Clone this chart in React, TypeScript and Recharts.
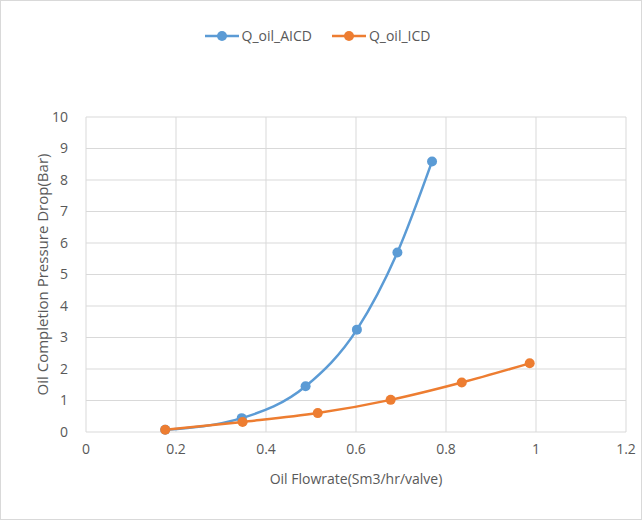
import React from "react";
import { LineChart, Line, XAxis, YAxis, CartesianGrid, Legend } from "recharts";

// flowrate (Sm3/hr/valve) vs pressure drop (bar)
const aicdFlow = [0.176, 0.346, 0.488, 0.602, 0.692, 0.769];
const aicdDrop = [0.07, 0.44, 1.45, 3.25, 5.7, 8.59];
const icdFlow = [0.176, 0.348, 0.515, 0.677, 0.835, 0.986];
const icdDrop = [0.07, 0.32, 0.6, 1.02, 1.57, 2.18];
const xTicks = [0, 0.2, 0.4, 0.6, 0.8, 1, 1.2];
const yTicks = [0, 1, 2, 3, 4, 5, 6, 7, 8, 9, 10];

const aicdData = aicdFlow.map((x, i) => ({ x, y: aicdDrop[i] }));
const icdData = icdFlow.map((x, i) => ({ x, y: icdDrop[i] }));

const FONT = "'Open Sans', sans-serif";
const TEXT = "#595959";
const BLUE = "#5b9bd5";
const ORANGE = "#ed7d31";

const LegendContent = () => {
  const items = [
    { name: "Q_oil_AICD", color: BLUE },
    { name: "Q_oil_ICD", color: ORANGE },
  ];
  return (
    <div style={{ display: "flex", justifyContent: "center", gap: 20, fontFamily: FONT, fontSize: 14, color: TEXT, paddingLeft: 8 }}>
      {items.map((it) => (
        <div key={it.name} style={{ display: "flex", alignItems: "center" }}>
          <svg width={34} height={12} style={{ marginRight: 3 }}>
            <line x1={0} y1={6} x2={34} y2={6} stroke={it.color} strokeWidth={2.5} />
            <circle cx={17} cy={6} r={5} fill={it.color} />
          </svg>
          <span>{it.name}</span>
        </div>
      ))}
    </div>
  );
};

export default function App() {
  return (
    <div
      style={{
        position: "absolute",
        left: 0,
        top: 0,
        width: 640,
        height: 518,
        border: "1px solid #d9d9d9",
        background: "#fff",
      }}
    >
      <LineChart width={640} height={518} margin={{ top: 20, right: 15, left: 0, bottom: 0 }}>
        <CartesianGrid stroke="#d9d9d9" strokeWidth={1} />
        <XAxis
          type="number"
          dataKey="x"
          domain={[0, 1.2]}
          ticks={xTicks}
          height={87}
          axisLine={false}
          tickLine={false}
          tick={{ fontSize: 14, fill: TEXT, fontFamily: FONT }}
          tickMargin={6}
          allowDuplicatedCategory={false}
          label={{ value: "Oil Flowrate(Sm3/hr/valve)", position: "insideTop", offset: 42, fontSize: 14, fill: TEXT, fontFamily: FONT }}
        />
        <YAxis
          type="number"
          dataKey="y"
          domain={[0, 10]}
          ticks={yTicks}
          width={85}
          axisLine={false}
          tickLine={false}
          tick={{ fontSize: 14, fill: TEXT, fontFamily: FONT }}
          tickMargin={12}
          label={{ value: "Oil Completion Pressure Drop(Bar)", angle: -90, position: "insideLeft", offset: 42, fontSize: 15, fill: TEXT, fontFamily: FONT, style: { textAnchor: "middle" } }}
        />
        <Legend verticalAlign="top" height={96} wrapperStyle={{ top: 25 }} content={<LegendContent />} />
        <Line
          data={aicdData}
          dataKey="y"
          name="Q_oil_AICD"
          type="monotone"
          stroke={BLUE}
          strokeWidth={2.5}
          dot={{ r: 5, fill: BLUE, stroke: BLUE, strokeWidth: 0 }}
          isAnimationActive={false}
        />
        <Line
          data={icdData}
          dataKey="y"
          name="Q_oil_ICD"
          type="monotone"
          stroke={ORANGE}
          strokeWidth={2.5}
          dot={{ r: 5, fill: ORANGE, stroke: ORANGE, strokeWidth: 0 }}
          isAnimationActive={false}
        />
      </LineChart>
    </div>
  );
}
